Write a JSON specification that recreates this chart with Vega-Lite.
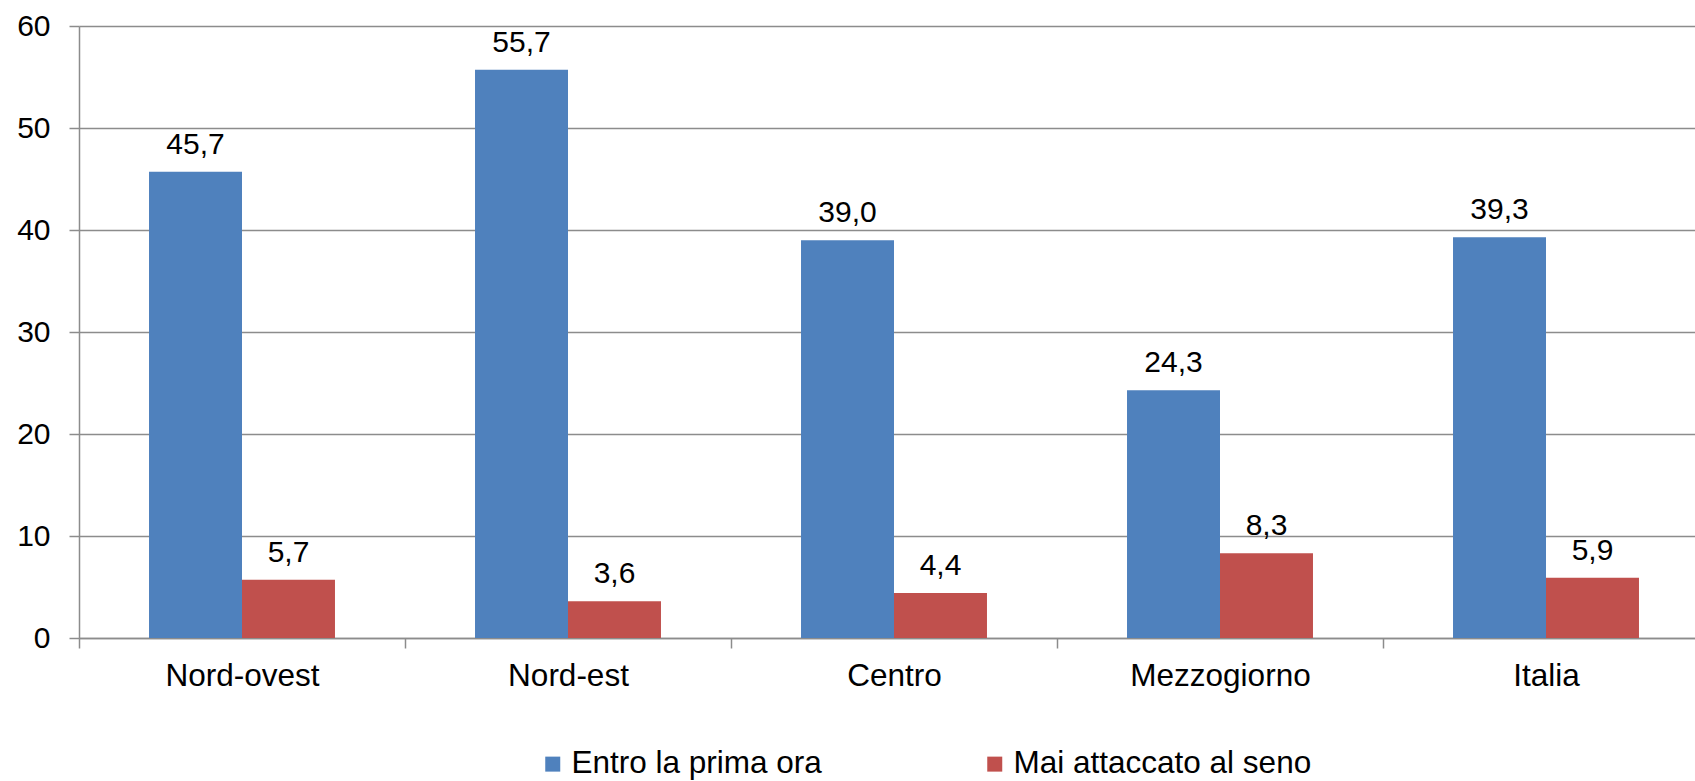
{
  "$schema": "https://vega.github.io/schema/vega-lite/v6.json",
  "autosize": {"type": "none"},
  "padding": {"left": 79, "top": 26, "right": 0, "bottom": 143},
  "width": 1616,
  "height": 612,
  "config": {
    "locale": {"number": {"decimal": ",", "thousands": ".", "grouping": [3], "currency": ["€", ""]}},
    "view": {"stroke": null},
    "font": "Liberation Sans"
  },
  "data": {
    "values": [
      {"region": "Nord-ovest", "series": "Entro la prima ora", "value": 45.7},
      {"region": "Nord-ovest", "series": "Mai attaccato al seno", "value": 5.7},
      {"region": "Nord-est", "series": "Entro la prima ora", "value": 55.7},
      {"region": "Nord-est", "series": "Mai attaccato al seno", "value": 3.6},
      {"region": "Centro", "series": "Entro la prima ora", "value": 39.0},
      {"region": "Centro", "series": "Mai attaccato al seno", "value": 4.4},
      {"region": "Mezzogiorno", "series": "Entro la prima ora", "value": 24.3},
      {"region": "Mezzogiorno", "series": "Mai attaccato al seno", "value": 8.3},
      {"region": "Italia", "series": "Entro la prima ora", "value": 39.3},
      {"region": "Italia", "series": "Mai attaccato al seno", "value": 5.9}
    ]
  },
  "encoding": {
    "x": {
      "field": "region",
      "type": "nominal",
      "sort": ["Nord-ovest", "Nord-est", "Centro", "Mezzogiorno", "Italia"],
      "scale": {"paddingInner": 0, "paddingOuter": 0, "range": [0, 1630]},
      "axis": {
        "title": null,
        "labelAngle": 0,
        "tickBand": "extent",
        "grid": false,
        "labelFontSize": 31.5,
        "labelLimit": 0,
        "labelColor": "#000000",
        "labelPadding": 12,
        "tickSize": 10,
        "tickColor": "#8c8c8c",
        "domainColor": "#8c8c8c",
        "domainWidth": 1.5,
        "tickWidth": 1.5
      }
    },
    "xOffset": {
      "field": "series",
      "type": "nominal",
      "sort": ["Entro la prima ora", "Mai attaccato al seno"],
      "scale": {"paddingInner": 0, "paddingOuter": 0.753}
    }
  },
  "layer": [
    {
      "mark": {"type": "bar"},
      "encoding": {
        "y": {
          "field": "value",
          "type": "quantitative",
          "scale": {"domain": [0, 60], "nice": false},
          "axis": {
            "title": null,
            "values": [0, 10, 20, 30, 40, 50, 60],
            "grid": true,
            "gridColor": "#8c8c8c",
            "gridWidth": 1.5,
            "tickColor": "#8c8c8c",
            "tickWidth": 1.5,
            "tickSize": 10,
            "domainColor": "#8c8c8c",
            "domainWidth": 1.5,
            "labelFontSize": 30,
            "labelColor": "#000000",
            "labelPadding": 19
          }
        },
        "color": {
          "field": "series",
          "type": "nominal",
          "scale": {"domain": ["Entro la prima ora", "Mai attaccato al seno"], "range": ["#4F81BD", "#C0504D"]},
          "legend": {
            "title": null,
            "orient": "none",
            "direction": "horizontal",
            "legendX": 458,
            "legendY": 722,
            "padding": 0,
            "symbolType": "square",
            "symbolSize": 225,
            "symbolStrokeWidth": 0,
            "symbolOpacity": 1,
            "labelFont": "Liberation Sans",
            "labelFontSize": 31.5,
            "labelLimit": 0,
            "labelColor": "#000000",
            "labelOffset": 3,
            "columnPadding": 157
          }
        }
      }
    },
    {
      "mark": {"type": "text", "baseline": "alphabetic", "dy": -18, "fontSize": 30, "color": "#000000"},
      "encoding": {
        "y": {"field": "value", "type": "quantitative"},
        "text": {"field": "value", "type": "quantitative", "format": ".1f"}
      }
    }
  ]
}
